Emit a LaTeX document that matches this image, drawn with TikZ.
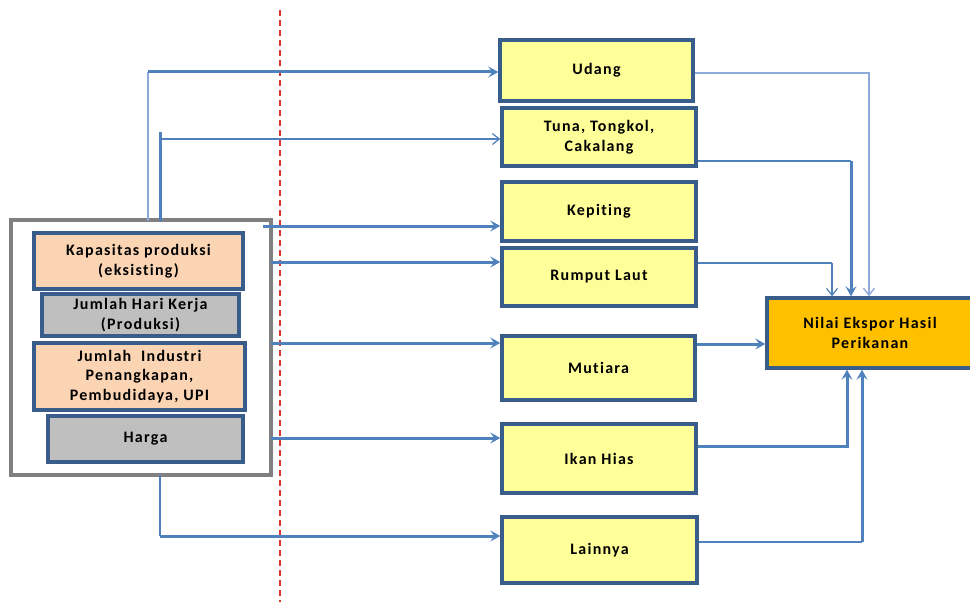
\documentclass[tikz,border=0pt]{standalone}
\usepackage{fontspec}
\setmainfont{Carlito}[LetterSpace=8,Ligatures=NoCommon]
\usetikzlibrary{arrows.meta}
\definecolor{bord}{HTML}{385D8A}
\definecolor{arr}{HTML}{4F81BD}
\definecolor{arrlight}{HTML}{8EAADB}
\definecolor{peach}{HTML}{FBD4B4}
\definecolor{grayfill}{HTML}{BFBFBF}
\definecolor{yel}{HTML}{FFFF99}
\definecolor{orng}{HTML}{FFC000}
\definecolor{redline}{HTML}{E03030}
\tikzset{
  base/.style={draw=bord,line width=3.4pt,font=\bfseries\fontsize{16}{19.5}\selectfont,align=center,inner sep=0pt},
  peachbox/.style={base,fill=peach},
  graybox/.style={base,fill=grayfill},
  yelbox/.style={base,fill=yel},
  goalbox/.style={base,fill=orng},
  thk/.style={draw=arr,line width=3pt},
  thn/.style={draw=arr,line width=1.2pt},
  thnl/.style={draw=arrlight,line width=1.4pt},
  tip/.style={-{Stealth[length=10pt,width=11pt,inset=4pt]}},
  tipthin/.style={-{Straight Barb[length=7pt,width=11pt]}},
}
\begin{document}
\begin{tikzpicture}[x=1pt,y=-1pt]
\useasboundingbox (0,0) rectangle (970,602);
\begin{scope}
\clip (0,0) rectangle (970,602);
% red dashed divider
\draw[redline,line width=1.3pt,dash pattern=on 6pt off 4pt] (280,10) -- (280,602);

% left group
\node[draw={rgb,255:red,128;green,128;blue,128},line width=3.4pt,minimum width=260pt,minimum height=255pt,inner sep=0pt] (outer) at (141,347.5) {};
\node[peachbox,minimum width=209pt,minimum height=56pt] (kap) at (138.5,261) {Kapasitas produksi\\(eksisting)};
\node[graybox,minimum width=197pt,minimum height=42pt] (jhk) at (140.5,315) {Jumlah Hari Kerja\\(Produksi)};
\node[peachbox,minimum width=211pt,minimum height=67pt] (jin) at (139.5,376.5) {Jumlah\ \ Industri\\Penangkapan,\\Pembudidaya, UPI};
\node[graybox,minimum width=195pt,minimum height=46pt] (hrg) at (145.5,439) {Harga};

% right boxes
\node[yelbox,minimum width=193pt,minimum height=61pt] (udang) at (596.5,70.5) {Udang};
\node[yelbox,minimum width=194pt,minimum height=58pt] (tuna) at (599,137) {Tuna, Tongkol,\\Cakalang};
\node[yelbox,minimum width=194pt,minimum height=59pt] (kep) at (599,211.5) {Kepiting};
\node[yelbox,minimum width=194pt,minimum height=58pt] (rum) at (599,277) {Rumput Laut};
\node[yelbox,minimum width=193pt,minimum height=64pt] (mut) at (598.5,368) {Mutiara};
\node[yelbox,minimum width=194pt,minimum height=69pt] (ikan) at (599,458.5) {Ikan Hias};
\node[yelbox,minimum width=195pt,minimum height=66pt] (lain) at (599.5,550) {Lainnya};
\node[goalbox,minimum width=206pt,minimum height=70pt] (nilai) at (870,333) {Nilai\ Ekspor\ Hasil\\Perikanan};

% left connectors
\coordinate (a1) at (148,220.5);
\coordinate (a1b) at (148,72);
\draw[thnl] (a1) -- (a1b);
\draw[thk,tip] (a1b) -- (a1b -| udang.west);

\coordinate (a2) at (160,220.5);
\coordinate (a2b) at (160,132);
\coordinate (a2c) at (160,139);
\draw[thk] (a2) -- (a2b);
\draw[thn,tipthin] (a2c) -- (a2c -| tuna.west);

\coordinate (a3) at (263,226);
\draw[thk,tip] (a3) -- (a3 -| kep.west);
\coordinate (a4) at (271,262);
\draw[thk,tip] (a4) -- (a4 -| rum.west);
\coordinate (a5) at (271,343);
\draw[thk,tip] (a5) -- (a5 -| mut.west);
\coordinate (a6) at (271,438);
\draw[thk,tip] (a6) -- (a6 -| ikan.west);

\coordinate (a7) at (160,474.5);
\coordinate (a7b) at (160,536);
\draw[thn] (a7) -- (a7b);
\draw[thk,tip] (a7b) -- (a7b -| lain.west);

% right connectors
\coordinate (r1) at (udang.east |- 0,73);
\coordinate (r1b) at (869,73);
\draw[thnl,tipthin] (r1) -- (r1b) -- (r1b |- nilai.north);

\coordinate (r2) at (tuna.east |- 0,161);
\coordinate (r2b) at (851,161);
\draw[thn] (r2) -- (r2b);
\draw[thk,tip] (r2b) -- (r2b |- nilai.north);

\coordinate (r3) at (rum.east |- 0,263);
\coordinate (r3b) at (832,263);
\draw[draw=arr,line width=1.8pt] (r3) -- (r3b);
\draw[thn,tipthin] (r3b) -- (r3b |- nilai.north);

\coordinate (r4) at (mut.east |- 0,344);
\draw[thk,tip] (r4) -- (r4 -| nilai.west);

\coordinate (r5) at (ikan.east |- 0,446);
\coordinate (r5b) at (847,446);
\draw[thk,tip] (r5) -- (r5b) -- (r5b |- nilai.south);

\coordinate (r6) at (lain.east |- 0,542);
\coordinate (r6b) at (862,542);
\draw[thn] (r6) -- (r6b);
\draw[thk,tip] (r6b) -- (r6b |- nilai.south);
\end{scope}
\end{tikzpicture}
\end{document}
